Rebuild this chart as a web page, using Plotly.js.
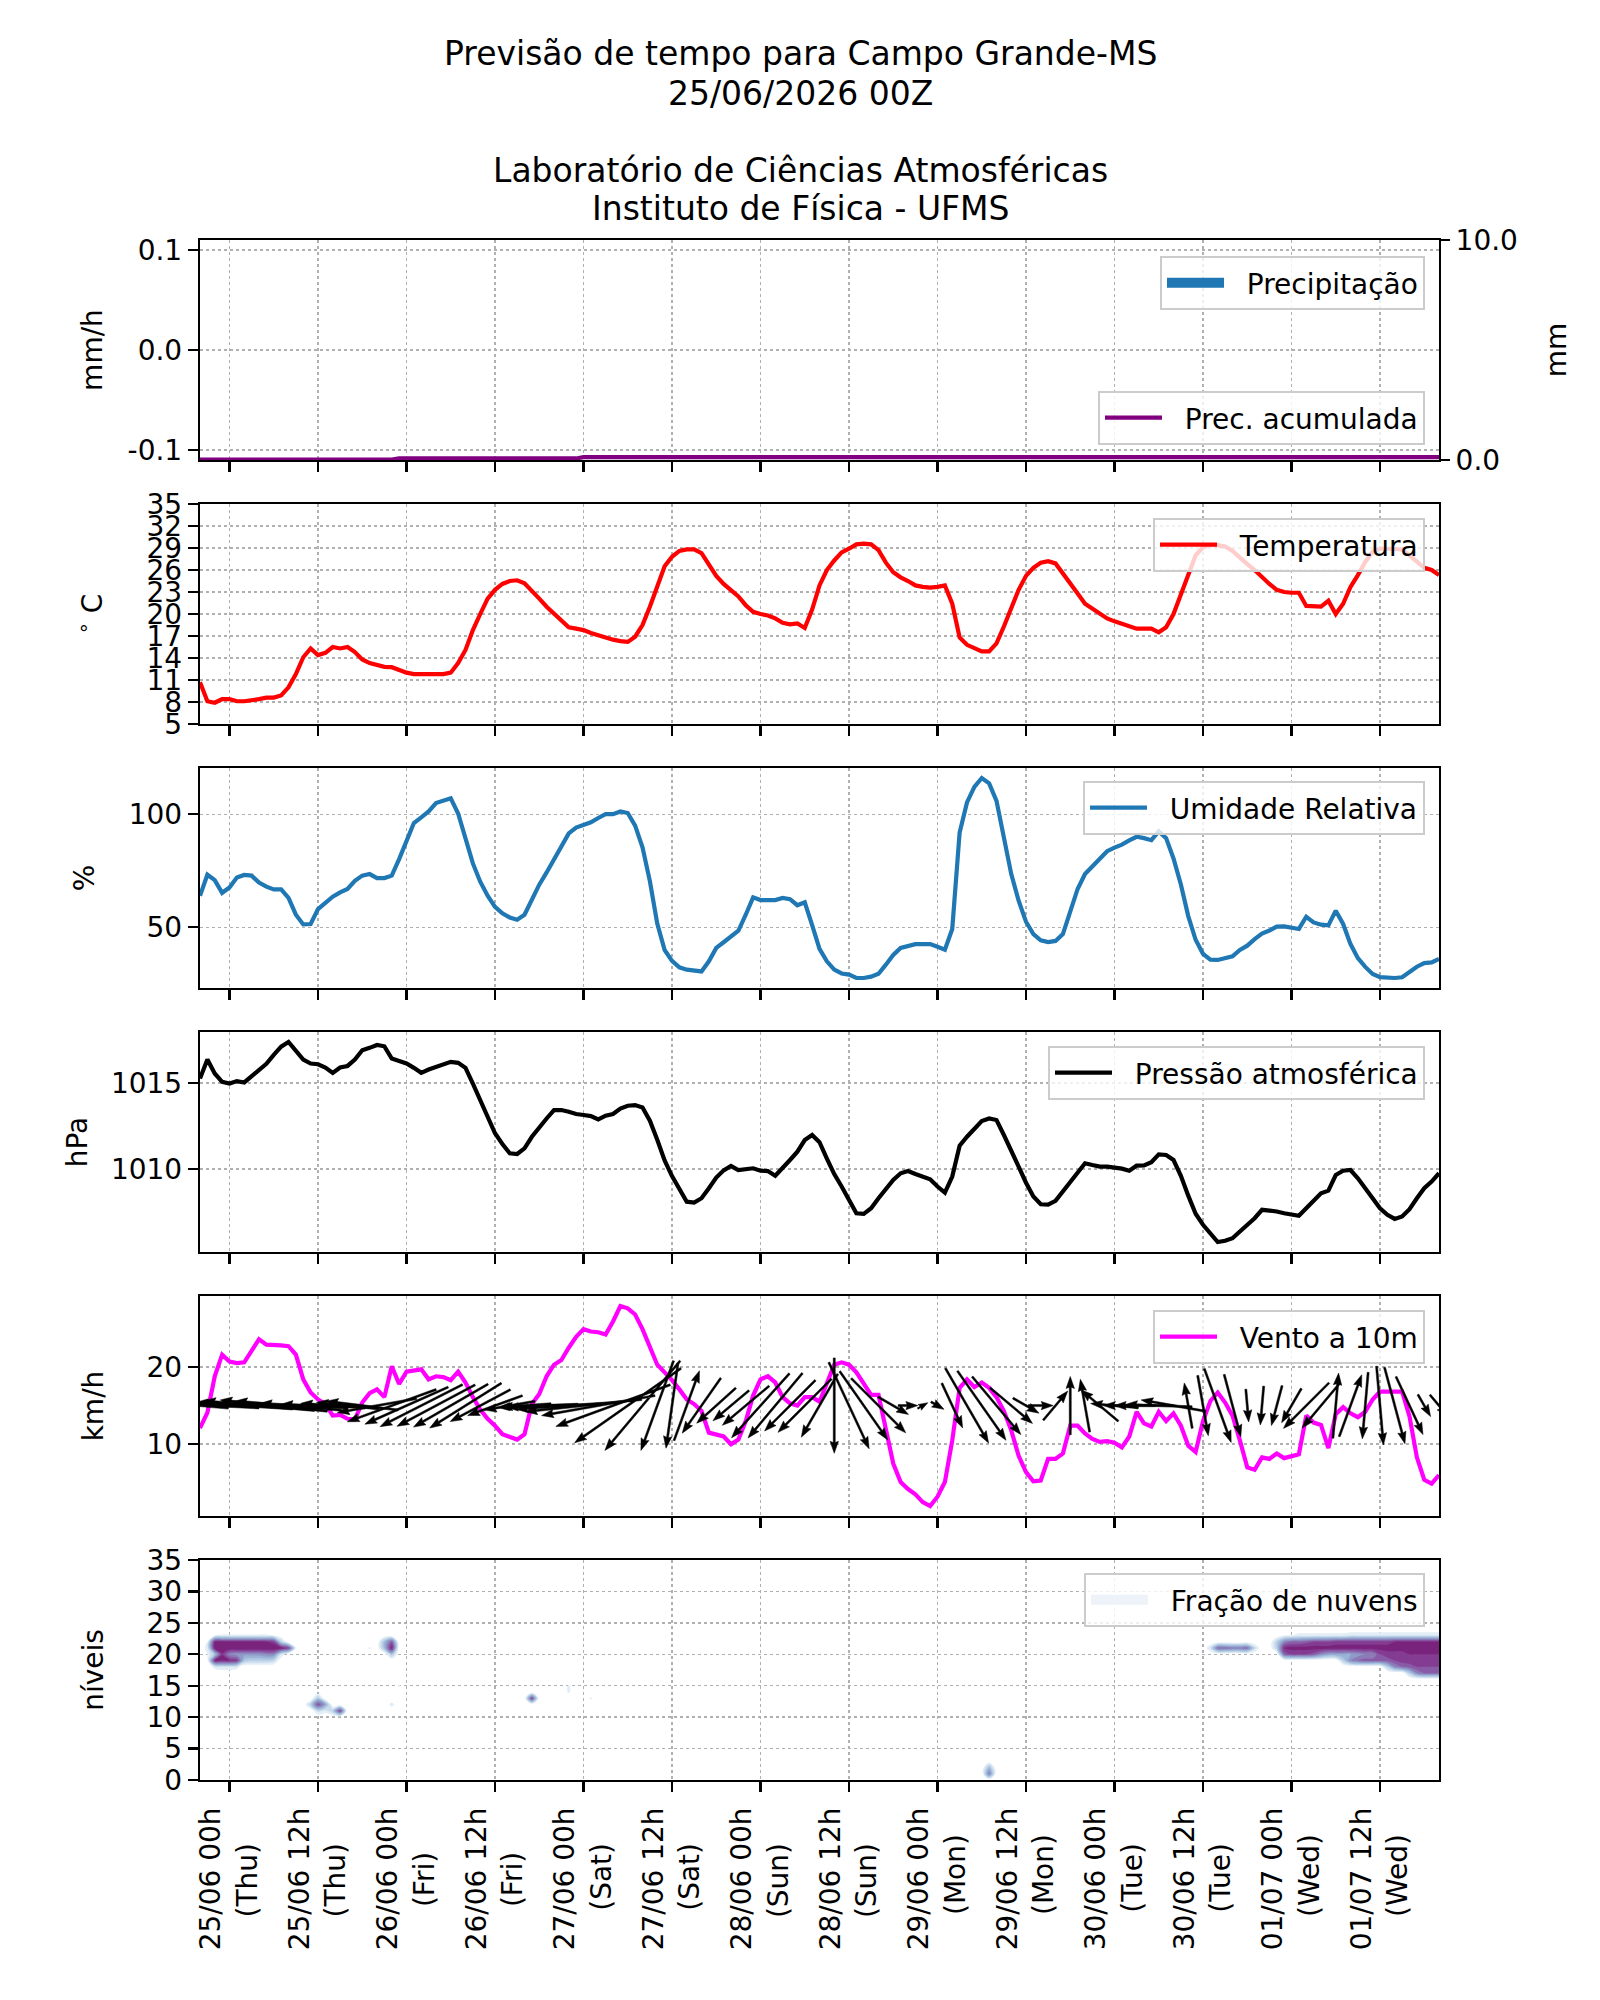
<!DOCTYPE html>
<html>
<head>
<meta charset="utf-8">
<script src="https://cdn.plot.ly/plotly-3.0.1.min.js"></script>
<style>
  html, body { margin: 0; padding: 0; background: #ffffff; }
  #chart { width: 1600px; height: 2000px; }
</style>
</head>
<body>
<div id="chart"></div>
<script>
// ---------------------------------------------------------------------------
// Forecast series, hourly, hours relative to 25/06 00h (local time)
// ---------------------------------------------------------------------------
const firstHour = -4;
const lastHour = 164;

const tickHours = [0, 12, 24, 36, 48, 60, 72, 84, 96, 108, 120, 132, 144, 156];
const tickDates = ['25/06 00h', '25/06 12h', '26/06 00h', '26/06 12h', '27/06 00h', '27/06 12h',
                   '28/06 00h', '28/06 12h', '29/06 00h', '29/06 12h', '30/06 00h', '30/06 12h',
                   '01/07 00h', '01/07 12h'];
const tickDays = ['(Thu)', '(Thu)', '(Fri)', '(Fri)', '(Sat)', '(Sat)', '(Sun)', '(Sun)',
                  '(Mon)', '(Mon)', '(Tue)', '(Tue)', '(Wed)', '(Wed)'];

// hourly precipitation (mm/h)
const precipRate = [
  0,0,0,0, 0,0,0,0,0,0,0,0,0,0, 0,0,0,0,0,0,0,0,0,0, 0,0,0,0,0,0,0,0,0,0,
  0,0,0,0,0,0,0,0,0,0, 0,0,0,0,0,0,0,0,0,0, 0,0,0,0,0,0,0,0,0,0,
  0,0,0,0,0,0,0,0,0,0, 0,0,0,0,0,0,0,0,0,0, 0,0,0,0,0,0,0,0,0,0,
  0,0,0,0,0,0,0,0,0,0, 0,0,0,0,0,0,0,0,0,0, 0,0,0,0,0,0,0,0,0,0,
  0,0,0,0,0,0,0,0,0,0, 0,0,0,0,0,0,0,0,0,0, 0,0,0,0,0,0,0,0,0,0,
  0,0,0,0,0
];

// accumulated precipitation (mm)
const precipAccum = [
  0.02,0.02,0.02,0.02,
  0.02,0.02,0.02,0.02,0.02,0.02,0.02,0.02,0.02,0.02,
  0.02,0.02,0.02,0.02,0.02,0.02,0.02,0.02,0.02,0.02,
  0.02,0.02,0.02,0.07,0.07,0.07,0.07,0.07,0.07,0.07,
  0.07,0.07,0.07,0.07,0.07,0.07,0.07,0.07,0.07,0.07,
  0.07,0.07,0.07,0.07,0.07,0.07,0.07,0.07,0.13,0.13,
  0.13,0.13,0.13,0.13,0.13,0.13,0.13,0.13,0.13,0.13,
  0.13,0.13,0.13,0.13,0.13,0.13,0.13,0.13,0.13,0.13,
  0.13,0.13,0.13,0.13,0.13,0.13,0.13,0.13,0.13,0.13,
  0.13,0.13,0.13,0.13,0.13,0.13,0.13,0.13,0.13,0.13,
  0.13,0.13,0.13,0.13,0.13,0.13,0.13,0.13,0.13,0.13,
  0.13,0.13,0.13,0.13,0.13,0.13,0.13,0.13,0.13,0.13,
  0.13,0.13,0.13,0.13,0.13,0.13,0.13,0.13,0.13,0.13,
  0.13,0.13,0.13,0.13,0.13,0.13,0.13,0.13,0.13,0.13,
  0.13,0.13,0.13,0.13,0.13,0.13,0.13,0.13,0.13,0.13,
  0.13,0.13,0.13,0.13,0.13,0.13,0.13,0.13,0.13,0.13,
  0.13,0.13,0.13,0.13,0.13,0.13,0.13,0.13,0.13,0.13,
  0.13,0.13,0.13,0.13,0.13
];

// 2 m temperature (°C)
const temperature = [
  10.7, 8.1, 7.9, 8.4,
  8.4, 8.1, 8.1, 8.2, 8.4, 8.6, 8.6, 8.9, 10.0, 11.8,
  14.1, 15.3, 14.4, 14.7, 15.5, 15.3, 15.5, 14.8, 13.8, 13.3,
  13.0, 12.8, 12.75, 12.3, 12.0, 11.8, 11.8, 11.8, 11.8, 11.8,
  12.0, 13.3, 15.1, 17.8, 20.0, 22.1, 23.3, 24.1, 24.5, 24.6,
  24.2, 23.2, 22.1, 21.0, 20.1, 19.1, 18.2, 18.0, 17.8, 17.4,
  17.1, 16.7, 16.5, 16.3, 16.2, 16.9, 18.5, 21.0, 23.9, 26.5,
  27.8, 28.6, 28.8, 28.8, 28.3, 26.8, 25.2, 24.1, 23.3, 22.4,
  21.2, 20.3, 20.0, 19.8, 19.4, 18.8, 18.6, 18.7, 18.1, 20.6,
  23.9, 26.0, 27.3, 28.4, 28.9, 29.5, 29.6, 29.5, 28.7, 27.0,
  25.7, 25.0, 24.5, 23.9, 23.7, 23.6, 23.7, 23.9, 21.4, 16.8,
  15.8, 15.3, 14.9, 14.9, 16.0, 18.3, 20.9, 23.3, 25.2, 26.3,
  27.0, 27.2, 26.9, 25.6, 24.1, 22.8, 21.4, 20.7, 20.0, 19.4,
  19.0, 18.7, 18.3, 18.0, 18.0, 18.0, 17.5, 18.2, 20.0, 22.7,
  25.6, 28.0, 29.1, 29.4, 29.4, 29.2, 28.6, 27.6, 26.8, 26.0,
  25.0, 24.1, 23.3, 23.0, 22.9, 22.9, 21.1, 21.1, 21.0, 21.8,
  20.0, 21.4, 23.7, 25.3, 27.1, 28.5, 28.9, 28.9, 28.9, 28.8,
  28.0, 27.1, 26.3, 26.0, 25.3
];

// relative humidity (%)
const humidity = [
  64.0, 73.3, 70.9, 65.3,
  67.7, 72.1, 73.2, 72.9, 69.8, 68.0, 66.8, 66.8, 63.0, 55.6,
  51.3, 51.5, 58.1, 61.1, 63.6, 65.5, 67.0, 70.6, 72.9, 73.6,
  71.8, 71.8, 72.9, 80.2, 88.3, 96.2, 98.7, 101.3, 105.0, 106.3,
  107.1, 100.4, 89.8, 78.3, 70.2, 64.0, 59.1, 56.2, 54.4, 53.4,
  55.6, 62.5, 68.9, 74.3, 80.2, 86.1, 91.6, 94.2, 95.4, 96.5,
  98.4, 100.1, 100.1, 101.3, 100.6, 95.0, 85.4, 70.5, 51.7, 40.0,
  35.2, 32.3, 31.3, 30.7, 30.5, 35.0, 40.9, 43.4, 46.0, 48.5,
  55.6, 63.3, 62.1, 62.1, 62.1, 63.0, 62.5, 59.8, 61.1, 51.0,
  40.5, 35.0, 31.3, 29.6, 29.1, 27.6, 27.6, 28.2, 29.5, 33.5,
  37.8, 40.9, 41.6, 42.6, 42.6, 42.6, 41.4, 40.1, 49.3, 92.0,
  105.3, 112.2, 116.1, 113.7, 106.0, 90.6, 73.6, 61.8, 52.5, 47.0,
  44.3, 43.5, 44.0, 47.0, 57.4, 67.0, 73.6, 77.0, 80.0, 83.7,
  85.3, 86.6, 88.5, 90.1, 89.5, 88.6, 92.5, 89.5, 80.5, 69.0,
  55.0, 44.5, 38.3, 35.7, 35.6, 36.4, 37.2, 40.0, 41.9, 44.8,
  47.3, 48.6, 50.3, 50.4, 49.7, 49.3, 54.7, 52.2, 51.2, 50.9,
  57.4, 51.5, 42.6, 36.4, 32.5, 29.4, 28.0, 27.6, 27.6, 27.9,
  30.1, 32.6, 34.2, 34.5, 36.0
];

// sea level pressure (hPa)
const pressure = [
  1015.25, 1016.35, 1015.54, 1015.06,
  1014.96, 1015.10, 1015.02, 1015.39, 1015.70, 1016.10, 1016.62, 1017.10, 1017.37, 1016.89,
  1016.35, 1016.12, 1016.08, 1015.89, 1015.58, 1015.89, 1015.98, 1016.35, 1016.89, 1017.03,
  1017.20, 1017.12, 1016.41, 1016.27, 1016.12, 1015.87, 1015.58, 1015.77, 1015.93, 1016.06,
  1016.22, 1016.16, 1015.87, 1014.96, 1014.00, 1012.90, 1012.07, 1011.45, 1010.91, 1010.87,
  1011.20, 1011.87, 1012.45, 1012.93, 1013.42, 1013.42, 1013.32, 1013.19, 1013.13, 1013.07,
  1012.88, 1013.09, 1013.19, 1013.51, 1013.67, 1013.71, 1013.57, 1012.80, 1011.70, 1010.50,
  1009.59, 1008.78, 1008.10, 1008.05, 1008.30, 1008.88, 1009.50, 1009.92, 1010.17, 1009.94,
  1009.98, 1010.04, 1009.90, 1009.88, 1009.61, 1010.04, 1010.52, 1011.00, 1011.68, 1011.97,
  1011.55, 1010.60, 1009.70, 1008.98, 1008.20, 1007.43, 1007.39, 1007.72, 1008.30, 1008.88,
  1009.36, 1009.75, 1009.88, 1009.71, 1009.56, 1009.40, 1008.98, 1008.63, 1009.56, 1011.35,
  1011.87, 1012.30, 1012.78, 1012.93, 1012.84, 1011.97, 1011.10, 1010.14, 1009.20, 1008.40,
  1007.95, 1007.93, 1008.15, 1008.69, 1009.23, 1009.79, 1010.33, 1010.23, 1010.14, 1010.14,
  1010.10, 1010.02, 1009.90, 1010.19, 1010.21, 1010.39, 1010.85, 1010.81, 1010.52, 1009.60,
  1008.45, 1007.40, 1006.76, 1006.24, 1005.76, 1005.83, 1005.98, 1006.37, 1006.76, 1007.14,
  1007.63, 1007.59, 1007.53, 1007.43, 1007.34, 1007.28, 1007.72, 1008.20, 1008.59, 1008.74,
  1009.65, 1009.90, 1009.94, 1009.46, 1008.88, 1008.30, 1007.72, 1007.34, 1007.10, 1007.24,
  1007.66, 1008.30, 1008.88, 1009.27, 1009.75
];

// 10 m wind speed (km/h)
const windSpeed = [
  12.1, 14.1, 18.8, 21.6,
  20.7, 20.5, 20.6, 22.1, 23.6, 22.9, 22.9, 22.8, 22.7, 21.6,
  18.4, 16.7, 15.8, 15.2, 13.7, 13.8, 13.3, 13.2, 15.4, 16.6,
  17.1, 16.1, 20.1, 17.8, 19.4, 19.6, 19.7, 18.4, 18.8, 18.7,
  18.3, 19.4, 18.0, 16.1, 14.5, 13.3, 12.4, 11.3, 10.9, 10.6,
  11.3, 15.2, 16.5, 18.8, 20.3, 20.9, 22.5, 23.9, 24.9, 24.6,
  24.5, 24.2, 25.9, 27.9, 27.6, 26.8, 24.9, 22.7, 20.3, 19.3,
  18.3, 17.1, 15.8, 15.2, 14.3, 11.5, 11.2, 11.0, 10.0, 10.6,
  13.0, 16.3, 18.4, 18.8, 18.0, 16.1, 15.3, 15.0, 16.1, 16.1,
  15.5, 17.8, 20.3, 20.6, 20.3, 19.3, 17.8, 16.4, 16.4, 11.8,
  7.5, 5.1, 4.2, 3.5, 2.5, 2.0, 3.2, 5.1, 10.5, 17.3,
  18.4, 17.4, 18.0, 17.3, 16.1, 14.3, 11.8, 8.5, 6.4, 5.2,
  5.3, 8.1, 8.1, 8.8, 12.4, 12.4, 11.4, 10.7, 10.3, 10.4,
  10.2, 9.6, 11.0, 14.2, 12.7, 12.3, 14.2, 13.0, 14.0, 12.4,
  9.8, 9.0, 13.0, 15.6, 16.7, 15.4, 13.7, 10.5, 7.0, 6.7,
  8.3, 8.1, 8.8, 8.2, 8.4, 8.7, 13.7, 12.8, 12.5, 9.5,
  13.9, 14.8, 14.0, 13.5, 14.2, 15.8, 16.8, 16.8, 16.8, 16.8,
  13.6, 8.3, 5.4, 4.9, 6.0
];

// 10 m wind direction (degrees, direction the wind blows from)
const windDir = [
  95, 95, 93, 92,
  92, 93, 94, 95, 95, 96, 96, 95, 95, 94,
  93, 92, 92, 93, 94, 95, 96, 97, 97, 96,
  80, 75, 70, 68, 66, 64, 63, 62, 62, 60,
  60, 58, 58, 60, 62, 65, 70, 75, 80, 84,
  86, 88, 88, 88, 88, 87, 86, 85, 84, 82,
  80, 75, 70, 62, 55, 48, 40, 30, 20, 12,
  8, 5, 200, 20, 35, 45, 48, 50, 50, 50,
  50, 45, 42, 40, 40, 42, 45, 45, 45, 40,
  30, 15, 0, 345, 335, 330, 325, 320, 315, 310,
  300, 290, 270, 250, 240, 260, 300, 320, 335, 335,
  330, 330, 325, 325, 320, 315, 310, 300, 300, 290,
  270, 240, 220, 200, 180, 175, 170, 165, 130, 100,
  95, 92, 90, 90, 90, 90, 92, 95, 100, 150,
  170, 175, 350, 345, 340, 340, 345, 350, 355, 0,
  5, 10, 15, 20, 30, 40, 45, 50, 40, 20,
  185, 190, 200, 10, 5, 0, 355, 350, 345, 340,
  335, 330, 330, 325, 320
];

// cloud fraction by model level: each row = level, first hour, hourly fractions
const cloudRowLevel = [23, 22, 21, 20, 19, 18,
                       13, 12, 11, 22, 21, 20, 12, 15, 14,
                       13, 15, 14, 13, 1, 2,
                       21, 23, 22, 21, 20, 19, 18, 17];
const cloudRowStart = [-2, -3, -3, -3, -3, -2,
                       12, 11, 12, 21, 19, 22, 22, 23, 21,
                       41, 46, 46, 49, 103, 103,
                       133, 143, 142, 142, 143, 151, 157, 160];
const cloudRowFrac = [
  [0.1, 0.12, 0.12, 0.12, 0.12, 0.12, 0.12, 0.12, 0.1],
  [0.1, 0.9, 0.92, 0.92, 0.92, 0.92, 0.92, 0.92, 0.9, 0.85, 0.3],
  [0.15, 0.95, 1, 1, 1, 1, 1, 1, 1, 1, 0.95, 0.85, 0.1],
  [0.1, 0.35, 0.9, 0.6, 0.55, 0.55, 0.55, 0.55, 0.6, 0.6, 0.2],
  [0.05, 0.9, 0.9, 0.9, 0.85, 0.35, 0.3, 0.3, 0.3, 0.25],
  [0.15, 0.2, 0.2, 0.15],
  [0.35],
  [0.3, 0.8, 0.5],
  [0.25, 0.15, 0.3, 0.85],
  [0.4, 0.75],
  [0.12, 0, 0.4, 0.95],
  [0.35],
  [0.15],
  [0.12],
  [0.1],
  [0.85],
  [0.12],
  [0.12],
  [0.12],
  [0.65],
  [0.4],
  [0.2, 0.7, 0.7, 0.65, 0.65, 0.7, 0.25],
  [0.1, 0.1, 0.15, 0.15, 0.15, 0.15, 0.15, 0.15, 0.15, 0.2, 0.2, 0.2, 0.2, 0.2, 0.2, 0.2, 0.2, 0.2, 0.2, 0.2, 0.2, 0.2],
  [0.3, 0.6, 0.7, 0.7, 0.75, 0.8, 0.8, 0.8, 0.85, 0.85, 0.85, 0.85, 0.85, 0.85, 0.85, 0.85, 0.9, 0.9, 0.9, 0.9, 0.9, 0.9, 0.9],
  [0.3, 0.9, 0.95, 0.95, 0.95, 0.95, 0.95, 0.95, 0.95, 0.95, 0.95, 0.95, 0.95, 0.95, 0.95, 0.95, 0.95, 0.95, 0.95, 0.95, 0.95, 0.95, 0.95],
  [0.7, 0.8, 0.8, 0.8, 0.75, 0.6, 0.5, 0.5, 0.5, 0.5, 0.55, 0.6, 0.6, 0.8, 0.85, 0.85, 0.85, 0.9, 0.9, 0.9, 0.9, 0.9],
  [0.3, 0.6, 0.7, 0.75, 0.75, 0.75, 0.75, 0.8, 0.85, 0.85, 0.85, 0.85, 0.85, 0.85],
  [0.3, 0.6, 0.7, 0.75, 0.8, 0.8, 0.8, 0.8],
  [0.3, 0.6, 0.7, 0.7, 0.7]
];

// ---------------------------------------------------------------------------
// Figure geometry
// ---------------------------------------------------------------------------
const FONT = 'DejaVu Sans';
const FS = 28;
const W = 1600, H = 2000;
const M = { l: 200, r: 161, t: 240, b: 220 };
const plotW = W - M.l - M.r;
const plotH = H - M.t - M.b;
const panelTop0 = 240, panelPitch = 264, panelH = 220;

const hours = [];
for (let h = firstHour; h <= lastHour; h++) hours.push(h);

function panelDomain(k) {
  const top = panelTop0 + k * panelPitch;
  const bottom = top + panelH;
  return [(H - M.b - bottom) / plotH, (H - M.b - top) / plotH];
}
function paperX(px) { return (px - M.l) / plotW; }
function paperY(py) { return (H - M.b - py) / plotH; }

function paddedRange(arr) {
  const lo = Math.min(...arr), hi = Math.max(...arr);
  const pad = (hi - lo) * 0.05;
  return [lo - pad, hi + pad];
}

// Rotated two-line tick labels: the day name is centred under the date line
// by padding it with no-break spaces (glyph advances of DejaVu Sans, in em).
const NBSP = '\u00a0';
const ADV = { '0': .636, '1': .636, '2': .636, '3': .636, '4': .636, '5': .636, '6': .636,
  '7': .636, '8': .636, '9': .636, '/': .337, ' ': .318, 'h': .634, '(': .390, ')': .390,
  'T': .611, 'u': .634, 'F': .575, 'r': .411, 'i': .278, 'S': .635, 'a': .613, 't': .392,
  'n': .634, 'M': .863, 'o': .612, 'e': .615, 'W': .989, 'd': .635 };
function textEm(s) { let w = 0; for (const ch of s) w += (ADV[ch] || 0.6); return w; }
const tickLabels = tickDates.map((d, i) => {
  const pad = Math.max(0, Math.round((textEm(d) - textEm(tickDays[i])) / 2 / 0.318));
  return d + '<br>' + tickDays[i] + NBSP.repeat(pad);
});
// legend entries keep a small gap between the key and its text
function legendName(s) { return NBSP + NBSP + s; }

const gridStyle = { showgrid: true, gridcolor: '#b0b0b0', griddash: 'dot', gridwidth: 1.5 };
const lineStyle = { showline: true, linecolor: '#000', linewidth: 2.2, mirror: true,
                    ticks: 'outside', ticklen: 10, tickwidth: 2.2, tickcolor: '#000', zeroline: false };
const tickFont = { family: FONT, size: FS, color: '#000' };

function xAxis(anchor, labels) {
  return Object.assign({
    anchor: anchor, domain: [0, 1], range: [firstHour, lastHour],
    tickmode: 'array', tickvals: tickHours, ticktext: tickLabels,
    showticklabels: labels, tickangle: -90, tickfont: tickFont, ticklabelstandoff: 4
  }, lineStyle, gridStyle);
}
function yAxis(anchor, k, range, extra, title, standoff) {
  return Object.assign({
    anchor: anchor, domain: panelDomain(k), range: range, tickfont: tickFont,
    title: { text: title, font: { family: FONT, size: FS, color: '#000' }, standoff: standoff }
  }, lineStyle, gridStyle, extra);
}

// ---------------------------------------------------------------------------
// Wind arrows (quiver-like polygons centred on a reference line, every 2 h)
// ---------------------------------------------------------------------------
const windRange = paddedRange(windSpeed);
const arrowLine = 15;
const arrowStep = 2;
const arrowPxPerKmh = 4.7;
const shaftW = 2.0;
function arrowPolygons() {
  const pxPerX = plotW / (lastHour - firstHour);
  const pxPerY = panelH / (windRange[1] - windRange[0]);
  const xs = [], ys = [];
  for (let i = 0; i < hours.length; i += arrowStep) {
    const L = windSpeed[i] * arrowPxPerKmh;
    const ang = (270 - windDir[i]) * Math.PI / 180;
    const k = Math.min(1, L / (7.5 * shaftW));
    const w = shaftW * k, hl = 6 * shaftW * k, ha = 5.4 * shaftW * k, hw = 2.1 * shaftW * k;
    const pts = [
      [-L / 2, -w / 2], [L / 2 - ha, -w / 2], [L / 2 - hl, -hw], [L / 2, 0],
      [L / 2 - hl, hw], [L / 2 - ha, w / 2], [-L / 2, w / 2], [-L / 2, -w / 2]
    ];
    const c = Math.cos(ang), s = Math.sin(ang);
    pts.forEach(([u, v]) => {
      xs.push(hours[i] + (u * c - v * s) / pxPerX);
      ys.push(arrowLine + (u * s + v * c) / pxPerY);
    });
    xs.push(null); ys.push(null);
  }
  return { xs, ys };
}
const arrows = arrowPolygons();

// ---------------------------------------------------------------------------
// Cloud fraction grid
// ---------------------------------------------------------------------------
const levels = [];
for (let l = 0; l <= 35; l++) levels.push(l);
const cloudZ = levels.map(() => hours.map(() => 0));
cloudRowLevel.forEach((lev, r) => {
  cloudRowFrac[r].forEach((f, j) => {
    const idx = cloudRowStart[r] + j - firstHour;
    if (idx >= 0 && idx < hours.length) cloudZ[lev][idx] = f;
  });
});

// ---------------------------------------------------------------------------
// Traces
// ---------------------------------------------------------------------------
const traces = [
  { type: 'bar', x: hours, y: precipRate, xaxis: 'x', yaxis: 'y', name: 'Precipitação',
    marker: { color: '#1f77b4', line: { width: 0 } }, showlegend: false, hoverinfo: 'skip' },
  // legend swatch for the precipitation bars
  { type: 'scatter', mode: 'lines', x: [null], y: [null], xaxis: 'x', yaxis: 'y',
    name: legendName('Precipitação'), line: { color: '#1f77b4', width: 16 }, legend: 'legend' },
  { type: 'scatter', mode: 'lines', x: hours, y: precipAccum, xaxis: 'x', yaxis: 'y7',
    name: legendName('Prec. acumulada'), line: { color: '#800080', width: 4.2 }, legend: 'legend2' },
  { type: 'scatter', mode: 'lines', x: hours, y: temperature, xaxis: 'x2', yaxis: 'y2',
    name: legendName('Temperatura'), line: { color: '#ff0000', width: 4.2 }, legend: 'legend3' },
  { type: 'scatter', mode: 'lines', x: hours, y: humidity, xaxis: 'x3', yaxis: 'y3',
    name: legendName('Umidade Relativa'), line: { color: '#1f77b4', width: 4.2 }, legend: 'legend4' },
  { type: 'scatter', mode: 'lines', x: hours, y: pressure, xaxis: 'x4', yaxis: 'y4',
    name: legendName('Pressão atmosférica'), line: { color: '#000000', width: 4.2 }, legend: 'legend5' },
  { type: 'scatter', mode: 'lines', x: hours, y: windSpeed, xaxis: 'x5', yaxis: 'y5',
    name: legendName('Vento a 10m'), line: { color: '#ff00ff', width: 4.2 }, legend: 'legend6' },
  { type: 'scatter', mode: 'lines', x: arrows.xs, y: arrows.ys, xaxis: 'x5', yaxis: 'y5',
    fill: 'toself', fillcolor: '#000000', line: { color: '#000000', width: 0.5 },
    showlegend: false, hoverinfo: 'skip' },
  { type: 'contour', x: hours, y: levels, z: cloudZ, xaxis: 'x6', yaxis: 'y6',
    zmin: 0, zmax: 1, autocontour: false,
    contours: { start: 0.1, end: 0.9, size: 0.1, coloring: 'fill', showlines: false },
    colorscale: [
      [0, 'rgba(255,255,255,0)'], [0.06, 'rgba(255,255,255,0)'],
      [0.1, '#e6eff7'], [0.25, '#c3d7ea'], [0.4, '#a0bcdc'], [0.55, '#8f9cca'],
      [0.7, '#8c72b2'], [0.85, '#86459a'], [1, '#7a237c']
    ],
    line: { width: 0 }, showscale: false, showlegend: false, hoverinfo: 'skip' },
  // legend swatch for the cloud-fraction field
  { type: 'scatter', mode: 'lines', x: [null], y: [null], xaxis: 'x6', yaxis: 'y6',
    name: legendName('Fração de nuvens'), legend: 'legend7', line: { color: '#edf3f9', width: 18 } }
];

// ---------------------------------------------------------------------------
// Layout
// ---------------------------------------------------------------------------
function legendAt(topPx, opts) {
  return Object.assign({
    x: paperX(1425), xanchor: 'right', y: paperY(topPx), yanchor: 'top',
    bgcolor: 'rgba(255,255,255,0.8)', bordercolor: '#cccccc', borderwidth: 2,
    itemwidth: 57,
    font: { family: FONT, size: FS, color: '#000' }
  }, opts || {});
}

const titleLines = [
  ['Previsão de tempo para Campo Grande-MS', 54],
  ['25/06/2026 00Z', 93],
  ['Laboratório de Ciências Atmosféricas', 170],
  ['Instituto de Física - UFMS', 208]
];

const layout = {
  width: W, height: H,
  margin: M,
  paper_bgcolor: '#ffffff', plot_bgcolor: '#ffffff',
  font: { family: FONT, size: FS, color: '#000' },
  bargap: 0,
  xaxis: xAxis('y', false),
  xaxis2: xAxis('y2', false),
  xaxis3: xAxis('y3', false),
  xaxis4: xAxis('y4', false),
  xaxis5: xAxis('y5', false),
  xaxis6: xAxis('y6', true),
  yaxis: yAxis('x', 0, [-0.11, 0.11],
    { tickmode: 'array', tickvals: [-0.1, 0, 0.1], ticktext: ['-0.1', '0.0', '0.1'] }, 'mm/h', 17),
  yaxis7: {
    overlaying: 'y', side: 'right', anchor: 'x', range: [0, 10],
    tickmode: 'array', tickvals: [0, 10], ticktext: ['0.0', '10.0'], tickfont: tickFont,
    ticks: 'outside', ticklen: 10, tickwidth: 2.2, tickcolor: '#000',
    showline: false, showgrid: false, zeroline: false,
    title: { text: 'mm', font: { family: FONT, size: FS, color: '#000' }, standoff: 29 }
  },
  yaxis2: yAxis('x2', 1, [5, 35], { tickmode: 'linear', tick0: 5, dtick: 3 }, '<sup>∘</sup> C', 36),
  yaxis3: yAxis('x3', 2, paddedRange(humidity), { tickmode: 'array', tickvals: [50, 100] }, '%', 26),
  yaxis4: yAxis('x4', 3, paddedRange(pressure), { tickmode: 'array', tickvals: [1010, 1015] }, 'hPa', 15),
  yaxis5: yAxis('x5', 4, windRange, { tickmode: 'array', tickvals: [10, 20] }, 'km/h', 35),
  yaxis6: yAxis('x6', 5, [0, 35], { tickmode: 'linear', tick0: 0, dtick: 5 }, 'níveis', 35),
  legend: legendAt(256),
  legend2: legendAt(445, { y: paperY(445), yanchor: 'bottom' }),
  legend3: legendAt(518),
  legend4: legendAt(781),
  legend5: legendAt(1046),
  legend6: legendAt(1310),
  legend7: legendAt(1573),
  annotations: titleLines.map(([txt, py]) => ({
    text: txt, xref: 'paper', yref: 'paper', x: paperX(800), y: paperY(py),
    xanchor: 'center', yanchor: 'middle', showarrow: false,
    font: { family: FONT, size: 33, color: '#000' }
  }))
};

Plotly.newPlot('chart', traces, layout, { staticPlot: true, displayModeBar: false });
</script>
</body>
</html>
